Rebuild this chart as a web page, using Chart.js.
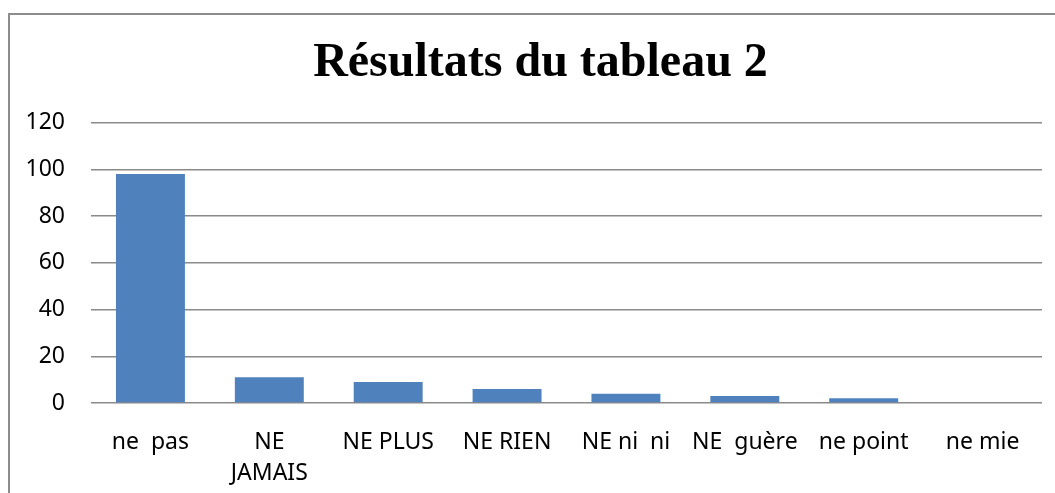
<!DOCTYPE html>
<html>
<head>
<meta charset="utf-8">
<script src="https://cdn.jsdelivr.net/npm/chart.js@4"></script>
<style>
  html, body { margin: 0; padding: 0; background: #fff; }
  #wrap { position: relative; width: 1055px; height: 493px; }
</style>
</head>
<body>
<div id="wrap"><canvas id="chart"></canvas></div>
<script>
// data
const LABELS = ['ne  pas', ['NE', 'JAMAIS'], 'NE PLUS', 'NE RIEN', 'NE ni  ni', 'NE  guère', 'ne point', 'ne mie'];
const VALUES = [98, 11, 9, 6, 4, 3, 2, 0];
const Y_TICKS = [0, 20, 40, 60, 80, 100, 120];

const GRID = '#8a8a8a';
const LABEL_FONT = { family: "'Noto Sans', sans-serif", size: 23 };

// frame round the chart (left + top edges only are visible),
// and nudge the title so it sits centred on the plot like the original
const framePlugin = {
  id: 'frame',
  afterLayout(chart) {
    if (chart.titleBlock) chart.titleBlock.left += 39;
  },
  beforeDraw(chart) {
    const ctx = chart.ctx;
    ctx.save();
    ctx.strokeStyle = '#8c8c8c';
    ctx.lineWidth = 2;
    ctx.beginPath();
    ctx.moveTo(9, chart.height);
    ctx.lineTo(9, 14);
    ctx.lineTo(chart.width, 14);
    ctx.stroke();
    ctx.restore();
  }
};

new Chart(document.getElementById('chart').getContext('2d'), {
  type: 'bar',
  data: {
    labels: LABELS,
    datasets: [{
      data: VALUES,
      backgroundColor: '#4F81BD',
      borderWidth: 0,
      barPercentage: 0.58,
      categoryPercentage: 1,
    }],
  },
  plugins: [framePlugin],
  options: {
    responsive: true,
    maintainAspectRatio: false,
    animation: false,
    layout: { padding: { left: 0, right: 13, top: 0, bottom: 0 } },
    plugins: {
      legend: { display: false },
      tooltip: { enabled: false },
      title: {
        display: true,
        text: 'Résultats du tableau 2',
        color: '#000',
        font: { family: "'Liberation Serif', 'Times New Roman', serif", size: 48, weight: 'bold', lineHeight: 1.2 },
        padding: { top: 35, bottom: 30 },
      },
    },
    scales: {
      y: {
        min: 0,
        max: 120,
        afterFit: s => { s.width = 91; },
        afterBuildTicks: s => { s.ticks = Y_TICKS.map(v => ({ value: v })); },
        ticks: { color: '#000', font: LABEL_FONT, padding: 26 },
        grid: { color: GRID, lineWidth: 1.5, drawTicks: false },
        border: { display: false },
      },
      x: {
        afterFit: s => { s.height = 90; },
        ticks: { color: '#000', font: { ...LABEL_FONT, lineHeight: 1.35 }, padding: 16, maxRotation: 0, autoSkip: false },
        grid: { display: false },
        border: { display: false },
      },
    },
  },
});
</script>
</body>
</html>
